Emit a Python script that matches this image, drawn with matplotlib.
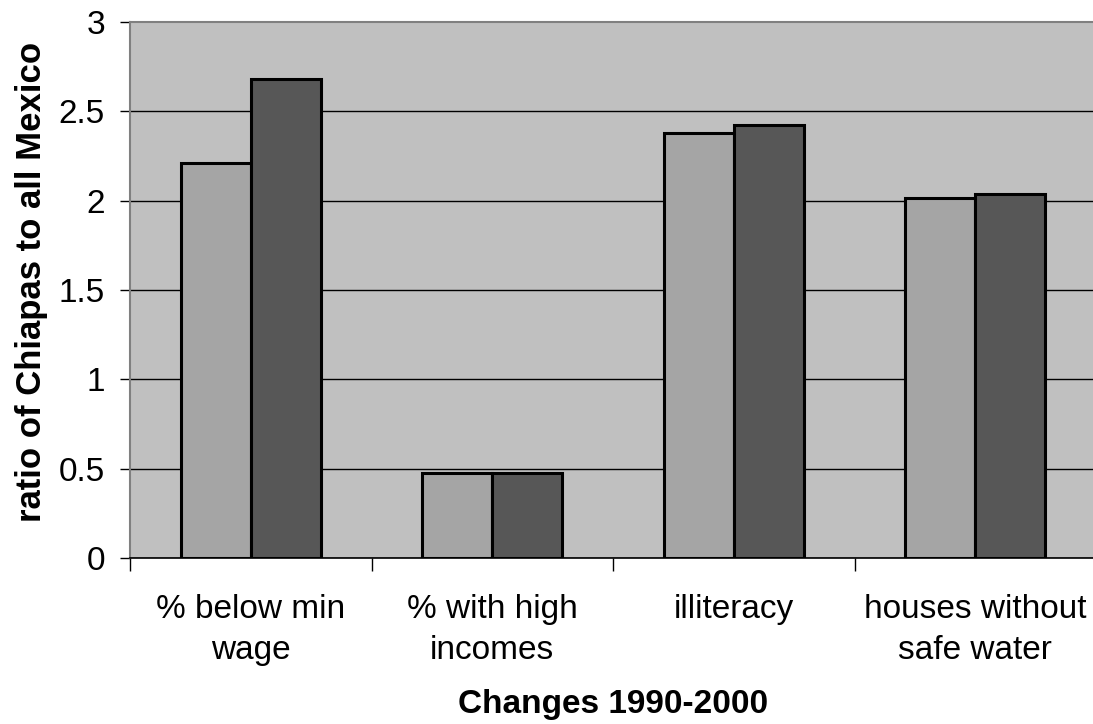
import matplotlib
matplotlib.use("Agg")
import matplotlib.pyplot as plt
import numpy as np

categories = ["% below min\nwage", "% with high\nincomes", "illiteracy", "houses without\nsafe water"]
values_1990 = [2.21, 0.475, 2.38, 2.015]
values_2000 = [2.68, 0.475, 2.425, 2.037]
yticks = [0, 0.5, 1, 1.5, 2, 2.5, 3]
ytick_labels = ["0", "0.5", "1", "1.5", "2", "2.5", "3"]

plt.rcParams['font.family'] = ['Liberation Sans', 'DejaVu Sans']

W, H = 1093, 724
fig = plt.figure(figsize=(W / 100, H / 100), dpi=100)
left, right, top, bottom = 130, 1096, 22, 558
ax = fig.add_axes([left / W, 1 - bottom / H, (right - left) / W, (bottom - top) / H])
ax.set_facecolor("#C0C0C0")

x = np.arange(len(categories)) + 0.5
bw = 0.29
ax.bar(x - bw / 2, values_1990, width=bw, color="#A5A5A5", edgecolor="black", linewidth=2.2, zorder=3)
ax.bar(x + bw / 2, values_2000, width=bw, color="#575757", edgecolor="black", linewidth=2.2, zorder=3)

ax.set_xlim(0, len(categories))
ax.set_ylim(0, 3)
ax.set_yticks(yticks)
ax.set_yticklabels(ytick_labels, fontsize=24)
ax.yaxis.grid(True, color="black", linewidth=1.0, zorder=1)
ax.set_axisbelow(True)

ax.set_xticks(np.arange(len(categories) + 1))
ax.set_xticklabels([])
ax.set_xticks(x, minor=True)
ax.set_xticklabels(categories, minor=True, fontsize=24, linespacing=1.4)
ax.tick_params(axis="x", which="minor", length=0, pad=26)
ax.tick_params(axis="x", which="major", length=9, width=1, color="black", direction="out")
ax.tick_params(axis="y", length=7, width=1, pad=11)

ax.spines["right"].set_visible(False)
ax.spines["top"].set_color("#808080")
ax.spines["top"].set_linewidth(1.5)
ax.spines["left"].set_color("#808080")
ax.spines["left"].set_linewidth(1.5)
ax.spines["bottom"].set_color("black")
ax.spines["bottom"].set_linewidth(1.2)

ax.set_ylabel("ratio of Chiapas to all Mexico", fontsize=25, fontweight="bold")
ax.yaxis.set_label_coords((48 - left) / (right - left), 0.515)
ax.set_xlabel("Changes 1990-2000", fontsize=24, fontweight="bold")
ax.xaxis.set_label_coords(0.5, -0.245)

fig.canvas.draw()
gl = ax.yaxis.get_gridlines()
gl[-1].set_visible(False)

fig.savefig("out.png", dpi=100)
